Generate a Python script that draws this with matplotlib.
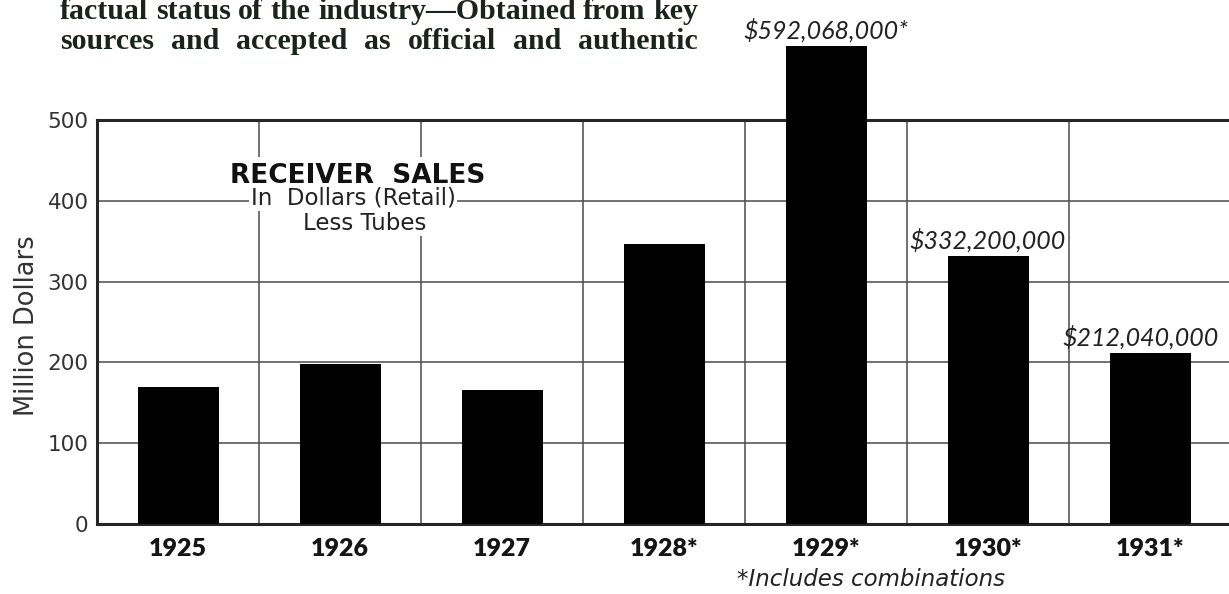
# Receiver sales chart (retail dollars, less tubes)
import matplotlib
matplotlib.use("Agg")
import matplotlib.pyplot as plt

# Data
years = ["1925", "1926", "1927", "1928*", "1929*", "1930*", "1931*"]
sales = [170, 198, 166, 347, 592.068, 332.2, 212.04]   # million dollars
value_labels = {4: "$592,068,000*", 5: "$332,200,000", 6: "$212,040,000"}
y_ticks = [0, 100, 200, 300, 400, 500]
page_lines = ["factual status of the industry\u2014Obtained from key",
              "sources and accepted as official and authentic"]

plt.rcParams["font.family"] = ["Lato", "DejaVu Sans"]

W, H = 1229, 594
fig = plt.figure(figsize=(W / 100, H / 100), dpi=100)
ax = fig.add_axes([97 / W, 70 / H, 1134 / W, 404 / H])

x = list(range(len(years)))
ax.bar(x, sales, width=0.5, color="black", zorder=3, clip_on=False)

ax.set_xlim(-0.5, 6.5)
ax.set_ylim(0, 500)

# grid: vertical lines between the bars, horizontal at each hundred
ax.set_xticks([i + 0.5 for i in range(6)], minor=True)
ax.grid(True, which="minor", axis="x", color="#4a4a4a", lw=1.1, zorder=1)
ax.set_yticks(y_ticks)
ax.grid(True, which="major", axis="y", color="#4a4a4a", lw=1.1, zorder=1)

ax.set_xticks(x)
ax.set_xticklabels(years, fontsize=18, fontweight="heavy", color="#151515")
ax.set_yticklabels([str(v) for v in y_ticks], fontsize=15.5,
                   family="DejaVu Sans", color="#333333")
ax.tick_params(which="both", length=0)
ax.tick_params(axis="x", pad=10)
ax.tick_params(axis="y", pad=6)

ax.set_ylabel("Million Dollars", fontsize=18.5, family="DejaVu Sans",
              color="#333333")
ax.yaxis.set_label_coords(-57 / 1134, 0.49)

for side in ["left", "bottom", "top"]:
    ax.spines[side].set_linewidth(2.2)
    ax.spines[side].set_color("#262626")
ax.spines["right"].set_visible(False)

# value annotations (1931 label sits a little left of its bar)
shift = {4: 0, 5: 0, 6: -7}
for i, label in value_labels.items():
    ax.annotate(label, (i, sales[i]), xytext=(shift[i], 5),
                textcoords="offset points", ha="center", va="baseline",
                fontsize=18, style="italic", color="#222222",
                annotation_clip=False)

# chart title box
ax.text(1.11, 431, "RECEIVER  SALES", ha="center", va="center", fontsize=19,
        fontweight="bold", family="DejaVu Sans", color="#111111",
        bbox=dict(facecolor="white", edgecolor="none", pad=4), zorder=5)
ax.text(1.08, 403, "In  Dollars (Retail)", ha="center", va="center",
        fontsize=16.5, family="DejaVu Sans", color="#222222",
        bbox=dict(facecolor="white", edgecolor="none", pad=1), zorder=5)
ax.text(1.15, 372, "Less Tubes", ha="center", va="center", fontsize=16.5,
        family="DejaVu Sans", color="#222222",
        bbox=dict(facecolor="white", edgecolor="none", pad=1), zorder=6)

# footnote
fig.text(737 / W, 1 - 579 / H, "*Includes combinations", ha="left",
         va="center", fontsize=16.5, style="italic", family="DejaVu Sans",
         color="#222222")

# running text from the page above the chart, justified
renderer = fig.canvas.get_renderer()
for line, base in zip(page_lines, [19, 49]):
    words = line.split()
    texts = [fig.text(0, 1 - base / H, w, ha="left", va="baseline",
                      fontsize=21.5, fontweight="bold", family="Liberation Serif",
                      color="#1a231c") for w in words]
    widths = [t.get_window_extent(renderer).width for t in texts]
    gap = (698 - 60 - sum(widths)) / (len(words) - 1)
    pos = 60
    for t, w in zip(texts, widths):
        t.set_x(pos / W)
        pos += w + gap

fig.savefig("out.png", dpi=100)
